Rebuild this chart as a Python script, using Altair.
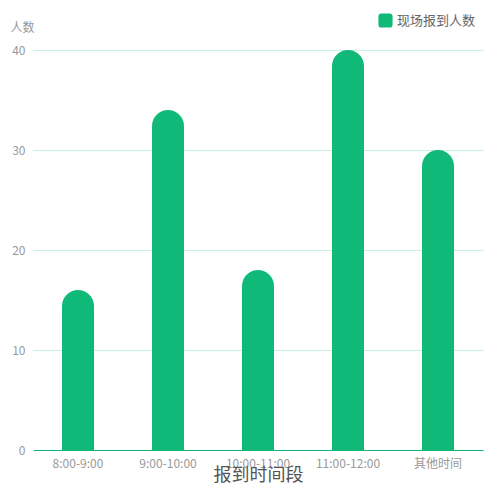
import altair as alt
import pandas as pd

categories = ["8:00-9:00", "9:00-10:00", "10:00-11:00", "11:00-12:00", "其他时间"]
values = [16, 34, 18, 40, 30]
series_name = "现场报到人数"

df = pd.DataFrame({"时间段": categories, "人数": values, "系列": [series_name] * len(categories)})

FONT = "Noto Sans CJK SC"
GREEN = "#10b978"

rounded_square = ("M-0.55,-1 H0.55 Q1,-1 1,-0.55 V0.55 Q1,1 0.55,1 H-0.55 "
                  "Q-1,1 -1,0.55 V-0.55 Q-1,-1 -0.55,-1 Z")

chart = alt.Chart(df).mark_bar(
    size=32, cornerRadiusTopLeft=16, cornerRadiusTopRight=16
).encode(
    x=alt.X("时间段:N", sort=categories, scale=alt.Scale(paddingInner=0.6, paddingOuter=0.3),
            axis=alt.Axis(title="报到时间段", labelAngle=0, ticks=False, domainColor=GREEN,
                          domainWidth=1, labelColor="#999999", labelFontSize=12, labelPadding=8,
                          titleFontSize=18, titleColor="#555555", titleFontWeight="normal",
                          titleY=25, titleBaseline="middle", labelFont=FONT, titleFont=FONT)),
    y=alt.Y("人数:Q", scale=alt.Scale(domain=[0, 40]),
            axis=alt.Axis(title="人数", values=[0, 10, 20, 30, 40], ticks=False, domain=False,
                          gridColor="#c6f2e3", labelColor="#999999", labelFontSize=12,
                          labelPadding=8, titleAngle=0, titleAlign="left", titleBaseline="middle",
                          titleX=-23, titleY=-23, titleFontSize=12, titleColor="#999999",
                          titleFontWeight="normal", labelFont=FONT, titleFont=FONT)),
    color=alt.Color("系列:N", scale=alt.Scale(range=[GREEN]),
                    legend=alt.Legend(title=None, orient="none", legendX=345, legendY=-37,
                                      symbolType=rounded_square, symbolSize=200,
                                      symbolStrokeWidth=0, labelFontSize=13, labelColor="#666666",
                                      labelFont=FONT, padding=0)),
).properties(
    width=450, height=400,
    autosize=alt.AutoSizeParams(type="none"),
    padding={"left": 25, "top": 42, "right": 9, "bottom": 34},
).configure_view(stroke=None)

chart.save("out.html", embed_options={"renderer": "svg", "actions": False})
